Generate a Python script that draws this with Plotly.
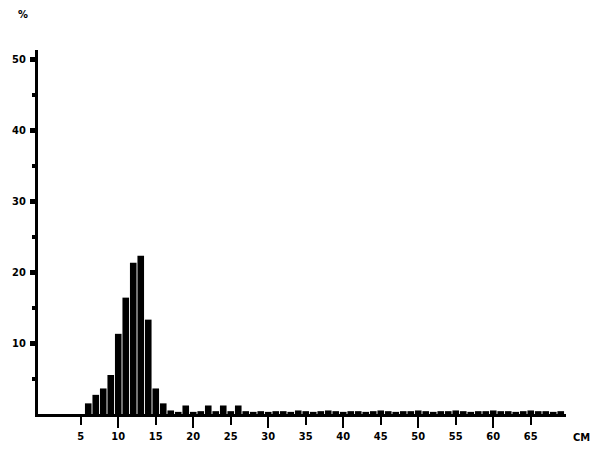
import plotly.graph_objects as go

# Length classes (cm) and percentage frequency
lengths = list(range(1, 70))
pct_main = {6: 1.5, 7: 2.7, 8: 3.6, 9: 5.5, 10: 11.3, 11: 16.4, 12: 21.3, 13: 22.3,
            14: 13.3, 15: 3.6, 16: 1.5, 17: 0.5, 18: 0.3, 19: 1.2, 20: 0.3, 21: 0.4,
            22: 1.2, 23: 0.4, 24: 1.2, 25: 0.4, 26: 1.2}
pct_tail = [0.4, 0.3, 0.4, 0.3, 0.4, 0.4, 0.3, 0.5, 0.4, 0.3, 0.4, 0.5, 0.4, 0.3,
            0.4, 0.4, 0.3, 0.4, 0.5, 0.4, 0.3, 0.4, 0.4, 0.5, 0.4, 0.3, 0.4, 0.4,
            0.5, 0.4, 0.3, 0.4, 0.4, 0.5, 0.4, 0.4, 0.3, 0.4, 0.5, 0.4, 0.4, 0.3, 0.4]  # 27..69
percent = [pct_main.get(v, 0.0) if v <= 26 else pct_tail[v - 27] for v in lengths]

x_ticks = [5, 10, 15, 20, 25, 30, 35, 40, 45, 50, 55, 60, 65]
y_ticks = [10, 20, 30, 40, 50]

FONT = dict(family="DejaVu Sans Condensed", size=11, color="black", weight="bold")

fig = go.Figure()
fig.add_trace(go.Bar(x=lengths, y=percent, marker=dict(color="black", line=dict(width=0)),
                     showlegend=False))

xr = [-0.7, 69.7]
fig.update_layout(
    width=591, height=445,
    margin=dict(l=30, r=33, t=42, b=39, autoexpand=False),
    plot_bgcolor="white", paper_bgcolor="white",
    bargap=0.12,
    font=FONT,
    xaxis=dict(range=xr, showgrid=False, zeroline=False, showline=True, linecolor="black",
               linewidth=3, ticks="outside", tickvals=x_ticks, ticktext=[str(v) for v in x_ticks],
               ticklen=8, tickwidth=2, tickcolor="black", tickfont=FONT, automargin=False,
               ticklabelstandoff=2),
    xaxis2=dict(range=xr, overlaying="x", side="bottom", showgrid=False, zeroline=False,
                showline=False, ticks="outside", tickvals=[v for v in x_ticks if v % 10 == 0],
                ticklen=13, tickwidth=2, tickcolor="black", showticklabels=False,
                automargin=False),
    yaxis=dict(range=[0, 51.3], showgrid=False, zeroline=False, showline=True,
               linecolor="black", linewidth=3, ticks="outside", tickvals=y_ticks,
               ticktext=[str(v) for v in y_ticks], ticklen=5, tickwidth=5, tickcolor="black",
               tickfont=FONT, automargin=False, ticklabelstandoff=2,
               minor=dict(tickvals=[5, 15, 25, 35, 45], ticks="outside", ticklen=3,
                          tickwidth=4, tickcolor="black")),
    annotations=[
        dict(text="%", xref="paper", yref="paper", x=-0.042, y=1.121, showarrow=False,
             font=FONT),
        dict(text="CM", xref="paper", yref="paper", x=1.049, xanchor="right", y=-0.088,
             showarrow=False, font=FONT),
    ],
)
# invisible trace to activate xaxis2
fig.add_trace(go.Scatter(x=[None], y=[None], xaxis="x2", showlegend=False))

fig.write_html("out.html")
